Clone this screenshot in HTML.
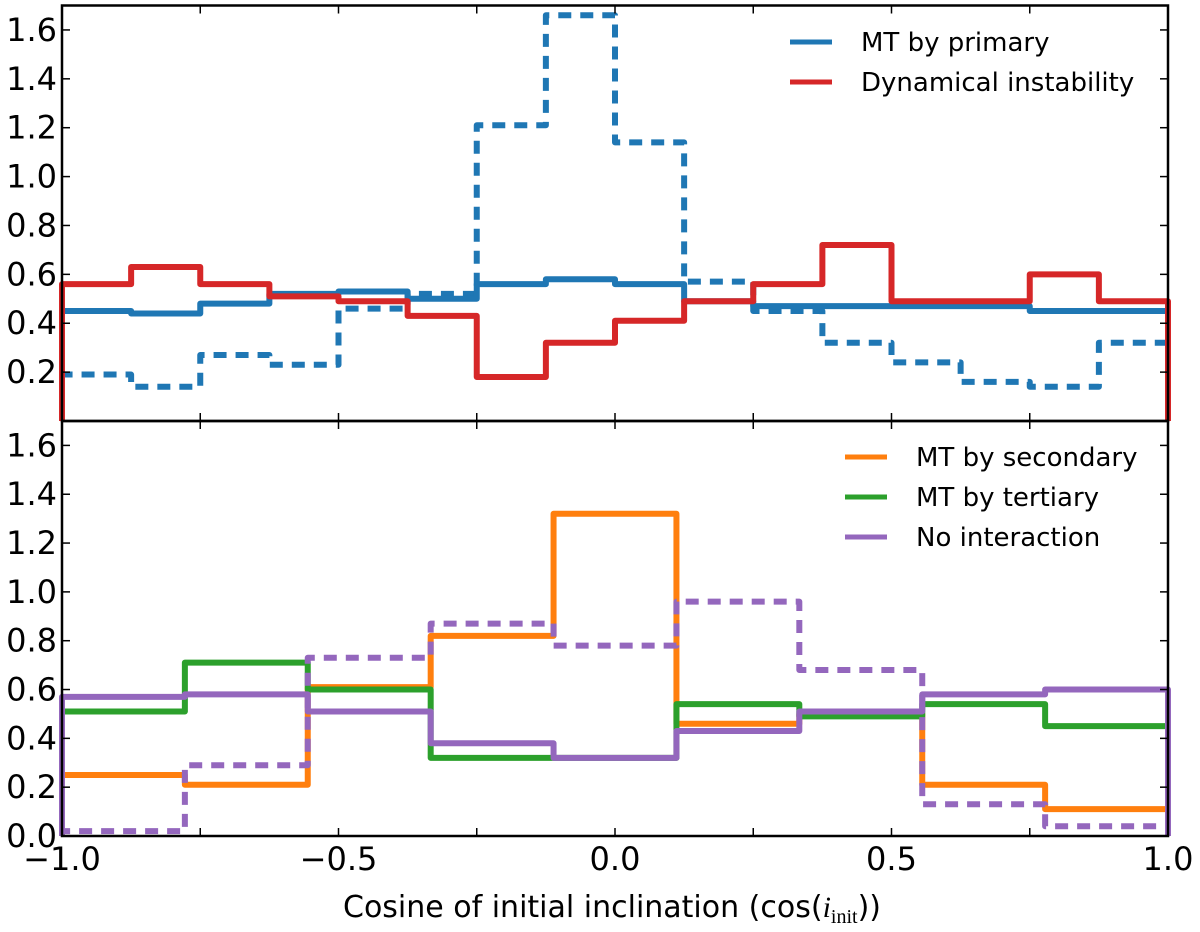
<!DOCTYPE html>
<html><head><meta charset="utf-8">
<style>
html,body{margin:0;padding:0;background:#fff;}
svg{display:block;font-family:"DejaVu Sans","Liberation Sans",sans-serif;}
</style></head>
<body>
<svg id="chart" width="1200" height="932" viewBox="0 0 1200 932">
<g id="topPanel"></g>
<g id="bottomPanel"></g>
<text x="612" y="917" font-size="30" text-anchor="middle">Cosine of initial inclination (cos(<tspan font-family="Liberation Serif, serif" font-style="italic">i</tspan><tspan font-family="Liberation Serif, serif" font-size="20" dy="6">init</tspan><tspan dy="-6">))</tspan></text>
</svg>
<script>
// ---- data ----
const topEdges = [-1,-0.875,-0.75,-0.625,-0.5,-0.375,-0.25,-0.125,0,0.125,0.25,0.375,0.5,0.625,0.75,0.875,1];
const primarySolid = [0.45,0.44,0.48,0.52,0.53,0.50,0.56,0.58,0.56,0.49,0.47,0.47,0.47,0.47,0.45,0.45];
const primaryDashed = [0.19,0.14,0.27,0.23,0.46,0.52,1.21,1.66,1.14,0.57,0.45,0.32,0.24,0.16,0.14,0.32];
const dynamical = [0.56,0.63,0.56,0.51,0.49,0.43,0.18,0.32,0.41,0.49,0.56,0.72,0.49,0.49,0.60,0.49];
const botEdges = [-1,-0.7778,-0.5556,-0.3333,-0.1111,0.1111,0.3333,0.5556,0.7778,1];
const secondary = [0.25,0.21,0.61,0.82,1.32,0.46,0.50,0.21,0.11];
const tertiary = [0.51,0.71,0.60,0.32,0.32,0.54,0.49,0.54,0.45];
const noInter = [0.57,0.58,0.51,0.38,0.32,0.43,0.51,0.58,0.60];
const noInterDashed = [0.02,0.29,0.73,0.87,0.78,0.96,0.68,0.13,0.04];
const xTicks = [-1,-0.75,-0.5,-0.25,0,0.25,0.5,0.75,1];
const xTickLabels = ["\u22121.0","\u22120.5","0.0","0.5","1.0"];
const xLabelVals = [-1,-0.5,0,0.5,1];
const yTicks = [0,0.2,0.4,0.6,0.8,1.0,1.2,1.4,1.6];

const NS="http://www.w3.org/2000/svg";
const X0=62,X1=1168;
const sx=v=>X0+(v+1)/2*(X1-X0);
function mk(tag,attrs,parent){const e=document.createElementNS(NS,tag);for(const k in attrs)e.setAttribute(k,attrs[k]);parent.appendChild(e);return e;}

function panel(g,yTop,yBot,series,legend,showZero,legX,legY){
  const sy=v=>yBot-v/1.7*(yBot-yTop);
  series.forEach(s=>{
    let d="M"+sx(s.edges[0])+","+sy(0);
    s.vals.forEach((v,i)=>{d+=" L"+sx(s.edges[i])+","+sy(v)+" L"+sx(s.edges[i+1])+","+sy(v);});
    d+=" L"+sx(s.edges[s.edges.length-1])+","+sy(0);
    const p=mk("path",{d:d,fill:"none",stroke:s.color,"stroke-width":6,"stroke-linejoin":"round"},g);
    if(s.dash)p.setAttribute("stroke-dasharray","13,9");
    
    
  });
  const fr=mk("rect",{x:X0,y:yTop,width:X1-X0,height:yBot-yTop,fill:"none",stroke:"#000","stroke-width":2.5},g);
  
  
  yTicks.forEach(v=>{
    if(v===0&&!showZero)return;
    const y=sy(v);
    mk("line",{x1:X0,x2:X0+8,y1:y,y2:y,stroke:"#000","stroke-width":1.5},g);
    mk("line",{x1:X1-8,x2:X1,y1:y,y2:y,stroke:"#000","stroke-width":1.5},g);
    const t=mk("text",{x:X0-5,y:y+11,"font-size":32,"text-anchor":"end"},g);
    t.textContent=v.toFixed(1);
    
    
  });
  xTicks.forEach(v=>{
    const x=sx(v);
    mk("line",{x1:x,x2:x,y1:yBot,y2:yBot-8,stroke:"#000","stroke-width":1.5},g);
    mk("line",{x1:x,x2:x,y1:yTop,y2:yTop+8,stroke:"#000","stroke-width":1.5},g);
  });
  legend.forEach((l,i)=>{
    const y=legY+i*40;
    const ln=mk("line",{x1:legX,x2:legX+42,y1:y,y2:y,stroke:l.color,"stroke-width":5},g);
    
    
    const t=mk("text",{x:legX+71,y:y+9,"font-size":26},g);
    t.textContent=l.label;
    
    
  });
}

const topG=document.getElementById("topPanel"), botG=document.getElementById("bottomPanel");
panel(topG,5.5,421,[
  {edges:topEdges,vals:primaryDashed,color:"#1f77b4",dash:true,name:"primary-dashed-series"},
  {edges:topEdges,vals:primarySolid,color:"#1f77b4",name:"mt-by-primary-series"},
  {edges:topEdges,vals:dynamical,color:"#d62728",name:"dynamical-instability-series"}
],[{label:"MT by primary",color:"#1f77b4"},{label:"Dynamical instability",color:"#d62728"}],false,790,42);
panel(botG,421,836,[
  {edges:botEdges,vals:secondary,color:"#ff7f0e",name:"mt-by-secondary-series"},
  {edges:botEdges,vals:tertiary,color:"#2ca02c",name:"mt-by-tertiary-series"},
  {edges:botEdges,vals:noInter,color:"#9467bd",name:"no-interaction-series"},
  {edges:botEdges,vals:noInterDashed,color:"#9467bd",dash:true,name:"no-interaction-dashed-series"}
],[{label:"MT by secondary",color:"#ff7f0e"},{label:"MT by tertiary",color:"#2ca02c"},{label:"No interaction",color:"#9467bd"}],true,845,457);

const svgEl=document.getElementById("chart");
xLabelVals.forEach((v,i)=>{
  const t=mk("text",{x:sx(v),y:870,"font-size":32,"text-anchor":"middle"},svgEl);
  t.textContent=xTickLabels[i];
  
  
});
</script>
</body></html>
